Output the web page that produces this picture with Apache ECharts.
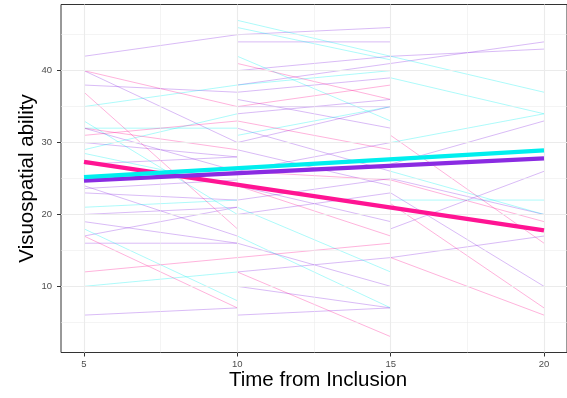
<!DOCTYPE html>
<html>
<head>
<meta charset="utf-8">
<script src="https://cdn.jsdelivr.net/npm/echarts@6/dist/echarts.min.js"></script>
<style>html,body{margin:0;padding:0;background:#fff}#c{width:567px;height:398px}</style>
</head>
<body>
<div id="c"></div>
<script>
const times = [5, 10, 15, 20];
const xTicks = [5, 10, 15, 20];
const yTicks = [10, 20, 30, 40];
const xGrid = [5, 7.5, 10, 12.5, 15, 17.5, 20];
const yGrid = [5, 10, 15, 20, 25, 30, 35, 40, 45];

// each subject: values at times 5, 10, 15, 20 (null = not observed)
const pinkSubjects = [
  [40, 35, 38, null],
  [37, 18, null, null],
  [31, 33, 29, null],
  [32, 29, null, null],
  [17, 7, null, null],
  [12, 14, 16, null],
  [null, 41, 36, null],
  [null, 12, 3, null],
  [null, 24, 17, null],
  [null, 26, 24.8, 19],
  [null, null, 31, 16],
  [null, null, 14, 6],
  [null, null, 21.5, 7]
];
const cyanSubjects = [
  [35, 38, null, null],
  [33, 20, null, null],
  [32, 32, null, null],
  [29, 34, null, null],
  [28.5, 24, null, null],
  [21, 22, null, null],
  [18, 8, null, null],
  [10, 12, null, null],
  [null, 47, 42, 37],
  [null, 46, 41.5, null],
  [null, 42, 33, null],
  [null, 38, 40, null],
  [null, 31, 35, null],
  [null, 21, 12, null],
  [null, 17, 7, null],
  [null, null, 39, 34],
  [null, null, 30, 34],
  [null, null, 26, 20],
  [null, null, 22, 22]
];
const purpleSubjects = [
  [42, 45, 46, null],
  [40, 30, null, null],
  [38, 37, null, null],
  [32, 26, null, null],
  [30, 28, null, null],
  [27, 28, null, null],
  [24, 17, null, null],
  [23.6, 24.8, null, null],
  [23, 22, null, null],
  [20, 21, null, null],
  [19, 16, null, null],
  [17, 21, null, null],
  [16, 16, null, null],
  [6, 7, null, null],
  [null, 44, 44, null],
  [null, 40, 42, 43],
  [null, 38, 41, 44],
  [null, 37, 39, null],
  [null, 36, 32, null],
  [null, 35, 35, null],
  [null, 34, 36, null],
  [null, 32, 26, null],
  [null, 30, 35, null],
  [null, 29, 24, null],
  [null, 26, 30, null],
  [null, 24, 19, null],
  [null, 22, 25, null],
  [null, 20, 23, null],
  [null, 16, 10, null],
  [null, 12, 14, 17],
  [null, 10, 7, null],
  [null, 6, 7, null],
  [null, null, 27, 33],
  [null, null, 25, 20],
  [null, null, 23, 10],
  [null, null, 18, 26]
];
// fitted trend lines: values at t = 5 and t = 20
const trendX = [5, 20];
const pinkTrend = [27.3, 17.8];
const cyanTrend = [25.2, 28.9];
const purpleTrend = [24.7, 27.8];

const PINK = '#FF1493', CYAN = '#00EEEE', PURPLE = '#8A2BE2';

function subjectSeries(list, color) {
  return list.map(s => ({
    type: 'line', silent: true, showSymbol: false, animation: false, z: 3,
    data: times.map((t, i) => s[i] == null ? null : [t, s[i]]).filter(Boolean),
    lineStyle: { color: color, width: 1, opacity: 0.32 }
  }));
}
function trendSeries(vals, color) {
  return {
    type: 'line', silent: true, showSymbol: false, animation: false, z: 5,
    data: trendX.map((t, i) => [t, vals[i]]),
    lineStyle: { color: color, width: 4.3, opacity: 1, cap: 'butt' }
  };
}
const gridMark = {
  type: 'line', silent: true, showSymbol: false, animation: false, z: 1,
  data: [[5, 10]], lineStyle: { opacity: 0 },
  markLine: {
    silent: true, symbol: 'none', animation: false, label: { show: false },
    data: xGrid.map(v => ({ xAxis: v, lineStyle: { color: '#EBEBEB', width: v % 5 === 0 ? 1.1 : 0.55, type: 'solid' } }))
      .concat(yGrid.map(v => ({ yAxis: v, lineStyle: { color: '#EBEBEB', width: v % 10 === 0 ? 1.1 : 0.55, type: 'solid' } })))
  }
};

const chart = echarts.init(document.getElementById('c'), null, { renderer: 'canvas' });
chart.setOption({
  animation: false,
  backgroundColor: '#ffffff',
  grid: { left: 61, top: 4.5, width: 514, height: 348, show: true, borderColor: '#333333', borderWidth: 1, backgroundColor: 'transparent' },
  xAxis: {
    type: 'value', min: 4.25, max: 20.75,
    axisLine: { show: false },
    splitLine: { show: false },
    axisTick: { show: true, length: 4, lineStyle: { color: '#333333' }, customValues: xTicks },
    axisLabel: { customValues: xTicks, color: '#4D4D4D', fontSize: 9.5, fontFamily: 'Liberation Sans', margin: 6.5 }
  },
  yAxis: {
    type: 'value', min: 0.8, max: 49.2,
    axisLine: { show: false },
    splitLine: { show: false },
    axisTick: { show: true, length: 4, lineStyle: { color: '#333333' }, customValues: yTicks },
    axisLabel: { customValues: yTicks, color: '#4D4D4D', fontSize: 9.5, fontFamily: 'Liberation Sans', margin: 9 }
  },
  graphic: [
    { type: 'text', x: 318, y: 380, style: { text: 'Time from Inclusion', fontSize: 20.5, fontFamily: 'Liberation Sans', fill: '#000', align: 'center', verticalAlign: 'middle' } },
    { type: 'text', x: 27, y: 178.5, rotation: Math.PI / 2, style: { text: 'Visuospatial ability', fontSize: 20.5, fontFamily: 'Liberation Sans', fill: '#000', align: 'center', verticalAlign: 'middle' } }
  ],
  series: [gridMark]
    .concat(subjectSeries(purpleSubjects, PURPLE))
    .concat(subjectSeries(cyanSubjects, CYAN))
    .concat(subjectSeries(pinkSubjects, PINK))
    .concat([trendSeries(pinkTrend, PINK), trendSeries(purpleTrend, PURPLE), trendSeries(cyanTrend, CYAN)])
});
</script>
</body>
</html>
